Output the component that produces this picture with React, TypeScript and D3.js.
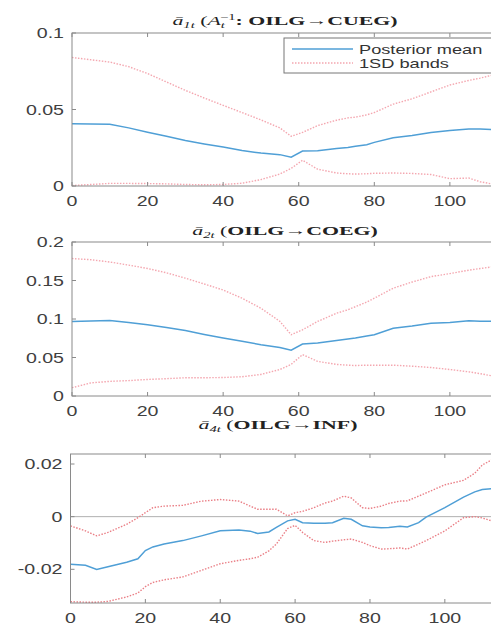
import React from 'react'
import * as d3 from 'd3'

// time grid for the first two panels, and a finer one for the third
const T = [0, 5, 10, 15, 20, 25, 30, 35, 40, 45, 50, 55, 58, 61, 65, 70, 73, 75, 78, 80, 85, 90, 95, 100, 105, 108, 113]
const mean1 = [.0407, .0405, .0403, .038, .0352, .0325, .0297, .0275, .0255, .0232, .0215, .0205, .0188, .0228, .023, .0245, .0252, .026, .027, .0285, .0315, .033, .035, .0362, .0372, .0372, .0368]
const upper1 = [.084, .0825, .081, .078, .0735, .068, .0625, .0575, .0527, .048, .0432, .038, .0325, .035, .0395, .043, .0445, .045, .0465, .048, .0535, .057, .0615, .066, .069, .0705, .0735]
const lower1 = [.0003, .001, .0017, .0017, .0016, .0014, .001, .0008, .001, .0018, .0042, .0078, .0115, .0168, .011, .0085, .008, .0078, .008, .0083, .0085, .0082, .0075, .0048, .0052, .0028, .0005]

const mean2 = [.0968, .0975, .098, .0955, .0925, .089, .085, .080, .0753, .071, .0667, .063, .0594, .0675, .0688, .072, .074, .0753, .078, .0796, .088, .091, .0946, .0955, .0976, .0972, .0968]
const upper2 = [.1785, .177, .174, .170, .1656, .160, .153, .1455, .1376, .127, .114, .097, .0796, .086, .0968, .1075, .112, .116, .122, .127, .14, .148, .155, .159, .1634, .1655, .169]
const lower2 = [.0108, .017, .019, .020, .0215, .0225, .0237, .0237, .024, .025, .028, .0344, .041, .0538, .045, .041, .040, .0396, .040, .040, .040, .0387, .037, .0344, .0314, .029, .0245]

const T3 = [0, 4, 7, 10, 15, 18, 20, 22, 25, 30, 35, 40, 45, 48, 50, 53, 55, 58, 60, 62, 65, 68, 70, 73, 75, 78, 80, 83, 85, 88, 90, 93, 95, 100, 105, 108, 110, 113]
const mean3 = [-.0181, -.0185, -.0201, -.019, -.0173, -.016, -.0129, -.0115, -.0104, -.0091, -.0073, -.0054, -.0051, -.0055, -.0064, -.0058, -.0041, -.0016, -.001, -.0023, -.0025, -.0025, -.0023, -.0006, -.001, -.0035, -.0039, -.0042, -.0041, -.0036, -.0039, -.0023, -.0002, .0034, .0074, .0094, .0103, .0107]
const upper3 = [-.0035, -.0054, -.0073, -.006, -.0029, -.0004, .0015, .0034, .004, .0043, .0059, .0065, .0059, .004, .0028, .0028, .0028, .0003, .0015, .002, .0034, .0052, .0059, .0078, .0071, .0034, .0031, .004, .005, .0059, .006, .0078, .009, .0121, .0138, .0165, .0196, .022]
const lower3 = [-.0323, -.0325, -.0325, -.0322, -.0305, -.029, -.0266, -.025, -.024, -.0229, -.0204, -.0179, -.0166, -.016, -.0154, -.013, -.0104, -.0045, -.0033, -.006, -.0091, -.0098, -.0093, -.0088, -.0085, -.0098, -.011, -.0123, -.0122, -.0119, -.0123, -.0104, -.0091, -.0054, -.0004, 0, -.0005, -.0018]

const xTicks = [0, 20, 40, 60, 80, 100]
const yTicks1 = [0, 0.05, 0.1]
const yTickLabels1 = ['0', '0.05', '0.1']
const yTicks2 = [0, 0.05, 0.1, 0.15, 0.2]
const yTickLabels2 = ['0', '0.05', '0.1', '0.15', '0.2']
const yTicks3 = [-0.02, 0, 0.02]
const yTickLabels3 = ['-0.02', '0', '0.02']
const legendLabels = ['Posterior mean', '1SD bands']

const W = 491
const H = 625
const BLUE = '#4f9fd6'
const PINK = '#f4a7b0'
const SANS = 'Liberation Sans, Arial, sans-serif'
const SERIF = 'Liberation Serif, Times New Roman, serif'
const SX = 1.4 // the picture's text is stretched sideways

type PanelProps = {
  t: number[]
  mean: number[]
  upper: number[]
  lower: number[]
  left: number
  right: number
  top: number
  bottom: number
  yDomain: [number, number]
  yTicks: number[]
  yLabels: string[]
  band: string
  zero?: boolean
}

function Panel(p: PanelProps) {
  const x = d3.scaleLinear().domain([0, 113]).range([p.left, p.right])
  const y = d3.scaleLinear().domain(p.yDomain).range([p.bottom, p.top])
  const line = (vals: number[]) =>
    d3.line<number>().x((_, i) => x(p.t[i])).y((d) => y(d))(vals) || ''
  const ax = '#8a8a8a'
  const tk = 4
  return (
    <g>
      {p.zero && <line x1={p.left} x2={p.right} y1={y(0)} y2={y(0)} stroke="#b0b0b0" strokeWidth={1} />}
      <path d={line(p.upper)} fill="none" stroke={p.band} strokeWidth={1.4} strokeDasharray="1.5,1.5" />
      <path d={line(p.lower)} fill="none" stroke={p.band} strokeWidth={1.4} strokeDasharray="1.5,1.5" />
      <path d={line(p.mean)} fill="none" stroke={BLUE} strokeWidth={1.5} />
      <rect x={p.left} y={p.top} width={p.right - p.left} height={p.bottom - p.top} fill="none" stroke={ax} strokeWidth={1} />
      {xTicks.map((v) => (
        <g key={'x' + v}>
          <line x1={x(v)} x2={x(v)} y1={p.bottom} y2={p.bottom - tk} stroke={ax} />
          <line x1={x(v)} x2={x(v)} y1={p.top} y2={p.top + tk} stroke={ax} />
          <text transform={`translate(${x(v)},${p.bottom + 20}) scale(${SX},1)`} textAnchor="middle"
            fontFamily={SANS} fontSize={14} fill="#404040">{v}</text>
        </g>
      ))}
      {p.yTicks.map((v, i) => (
        <g key={'y' + v}>
          <line x1={p.left} x2={p.left + tk} y1={y(v)} y2={y(v)} stroke={ax} />
          <text transform={`translate(${p.left - 8},${y(v) + 5}) scale(${SX},1)`} textAnchor="end"
            fontFamily={SANS} fontSize={14} fill="#404040">{p.yLabels[i]}</text>
        </g>
      ))}
    </g>
  )
}

function Title({ cx, cy, sub, src, dst, inv }: { cx: number; cy: number; sub: string; src: string; dst: string; inv?: boolean }) {
  return (
    <text transform={`translate(${cx},${cy}) scale(1.62,1)`} textAnchor="middle" fontFamily={SERIF} fontSize={13.5} fill="#222">
      <tspan fontStyle="italic">ā</tspan>
      <tspan fontStyle="italic" fontSize={9} dy={2.5}>{sub}</tspan>
      <tspan dy={-2.5}>{'  ('}</tspan>
      {inv && (
        <>
          <tspan fontStyle="italic">A</tspan>
          <tspan fontStyle="italic" fontSize={9} dy={3}>t</tspan>
          <tspan fontSize={9} dx={-3} dy={-8}>{'−1'}</tspan>
          <tspan fontWeight="bold" dy={5}>{':  '}</tspan>
        </>
      )}
      <tspan fontWeight="bold">{src}</tspan>
      <tspan>{'→'}</tspan>
      <tspan fontWeight="bold">{dst + ')'}</tspan>
    </text>
  )
}

export default function App() {
  return (
    <svg width={W} height={H} style={{ position: 'absolute', left: 0, top: 0, background: '#fff' }}>
      <Title cx={285} cy={25} sub="1t" src="OILG" dst="CUEG" inv />
      <Panel t={T} mean={mean1} upper={upper1} lower={lower1} left={72} right={499} top={33} bottom={186}
        yDomain={[0, 0.1]} yTicks={yTicks1} yLabels={yTickLabels1} band={PINK} />

      <Title cx={285} cy={235} sub="2t" src="OILG" dst="COEG" />
      <Panel t={T} mean={mean2} upper={upper2} lower={lower2} left={72} right={499} top={242} bottom={396}
        yDomain={[0, 0.2]} yTicks={yTicks2} yLabels={yTickLabels2} band={PINK} />

      <Title cx={278} cy={429} sub="4t" src="OILG" dst="INF" />
      <Panel t={T3} mean={mean3} upper={upper3} lower={lower3} left={70.5} right={493.5} top={454} bottom={603}
        yDomain={[-0.0328, 0.0238]} yTicks={yTicks3} yLabels={yTickLabels3} band="#ea7f86" zero />

      {/* legend */}
      <g>
        <rect x={284} y={38} width={220} height={35} fill="#fff" stroke="#777" strokeWidth={1} />
        <line x1={292} x2={353} y1={49} y2={49} stroke={BLUE} strokeWidth={1.5} />
        <line x1={292} x2={353} y1={63} y2={63} stroke={PINK} strokeWidth={1.4} strokeDasharray="1.5,1.5" />
        {legendLabels.map((s, i) => (
          <text key={s} transform={`translate(359,${53.5 + i * 14}) scale(${SX},1)`} fontFamily={SANS} fontSize={13} fill="#333">{s}</text>
        ))}
      </g>
    </svg>
  )
}
